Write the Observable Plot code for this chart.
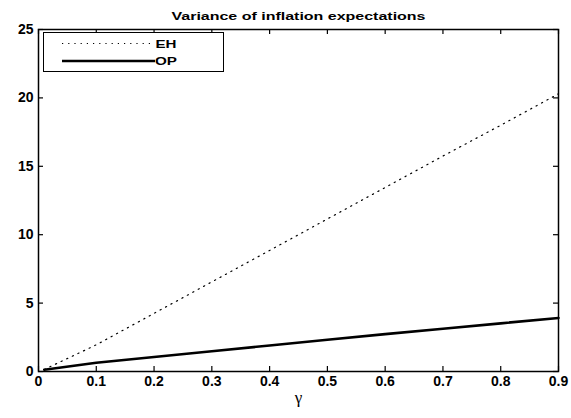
<!DOCTYPE html>
<html><head><meta charset="utf-8">
<script src="https://cdn.jsdelivr.net/npm/d3@7"></script>
<script src="https://cdn.jsdelivr.net/npm/@observablehq/plot@0.6"></script>
<style>body{margin:0;background:#fff} #chart svg{display:block}</style>
</head><body><div id="chart"></div>
<script>
const chartTitle = "Variance of inflation expectations";
const xLabel = "γ";
const seriesNames = ["EH", "OP"];
const gamma = [0.01, 0.1, 0.2, 0.3, 0.4, 0.5, 0.6, 0.7, 0.8, 0.9];
const eh = [0.15, 1.95, 4.25, 6.55, 8.85, 11.15, 13.45, 15.75, 18.0, 20.3];
const op = [0.13, 0.64, 1.06, 1.48, 1.9, 2.32, 2.73, 3.13, 3.52, 3.91];
const xTicks = [0, 0.1, 0.2, 0.3, 0.4, 0.5, 0.6, 0.7, 0.8, 0.9];
const yTicks = [0, 5, 10, 15, 20, 25];

const ehData = gamma.map((g, i) => ({x: g, y: eh[i]}));
const opData = gamma.map((g, i) => ({x: g, y: op[i]}));
const font = "Liberation Sans, Arial, sans-serif";
const W = 571, H = 418, mL = 38, mR = 13, mT = 29, mB = 47;
const fw = W - mL - mR, fh = H - mT - mB, tk = 5;

const chart = Plot.plot({
  width: W, height: H,
  marginLeft: mL, marginRight: mR, marginTop: mT, marginBottom: mB,
  style: {fontFamily: font, fontSize: "14px", fontWeight: "bold", background: "#fff", color: "#000"},
  x: {domain: [0, 0.9]},
  y: {domain: [0, 25]},
  marks: [
    Plot.line(ehData, {x: "x", y: "y", stroke: "#000", strokeWidth: 1.2, strokeDasharray: "1.2,5"}),
    Plot.line(opData, {x: "x", y: "y", stroke: "#000", strokeWidth: 2.6}),
    Plot.tickX(xTicks, {x: d => d, insetTop: fh - tk, stroke: "#000", strokeWidth: 1.2}),
    Plot.tickX(xTicks, {x: d => d, insetBottom: fh - tk, stroke: "#000", strokeWidth: 1.2}),
    Plot.tickY(yTicks, {y: d => d, insetRight: fw - tk, stroke: "#000", strokeWidth: 1.2}),
    Plot.tickY(yTicks, {y: d => d, insetLeft: fw - tk, stroke: "#000", strokeWidth: 1.2}),
    Plot.axisX(xTicks, {anchor: "bottom", tickSize: 0, tickPadding: 5, label: null, tickFormat: d => String(d)}),
    Plot.axisY(yTicks, {anchor: "left", tickSize: 0, tickPadding: 5, label: null, tickFormat: d => String(d)}),
    Plot.frame({stroke: "#000", strokeWidth: 1.5}),
    Plot.text([xLabel], {frameAnchor: "bottom", dy: 31, fontSize: 17, fontWeight: "normal", fontFamily: "Liberation Serif, serif"}),
    Plot.text([chartTitle], {frameAnchor: "top", dy: -17, fontSize: 11, fontWeight: "bold"})
  ]
});
document.getElementById("chart").appendChild(chart);

const root = d3.select(chart);
root.selectAll("text").filter(function () { return this.textContent === chartTitle; })
  .attr("textLength", 254).attr("lengthAdjust", "spacingAndGlyphs");

const lg = root.append("g");
lg.append("rect").attr("x", 43.5).attr("y", 32.5).attr("width", 180).attr("height", 39)
  .attr("fill", "#fff").attr("stroke", "#000").attr("stroke-width", 1);
const rows = [
  {name: seriesNames[0], y: 43.5, dash: "1.2,5", w: 1.2, tl: 21},
  {name: seriesNames[1], y: 61, dash: "", w: 2.6, tl: 22}
];
rows.forEach(r => {
  const ln = lg.append("line").attr("x1", 62).attr("x2", 155).attr("y1", r.y).attr("y2", r.y)
    .attr("stroke", "#000").attr("stroke-width", r.w);
  if (r.dash) ln.attr("stroke-dasharray", r.dash);
  lg.append("text").attr("x", 166).attr("y", r.y + 4)
    .attr("font-size", 11).attr("font-weight", "bold")
    .attr("textLength", r.tl).attr("lengthAdjust", "spacingAndGlyphs")
    .text(r.name);
});
</script>
</body></html>
